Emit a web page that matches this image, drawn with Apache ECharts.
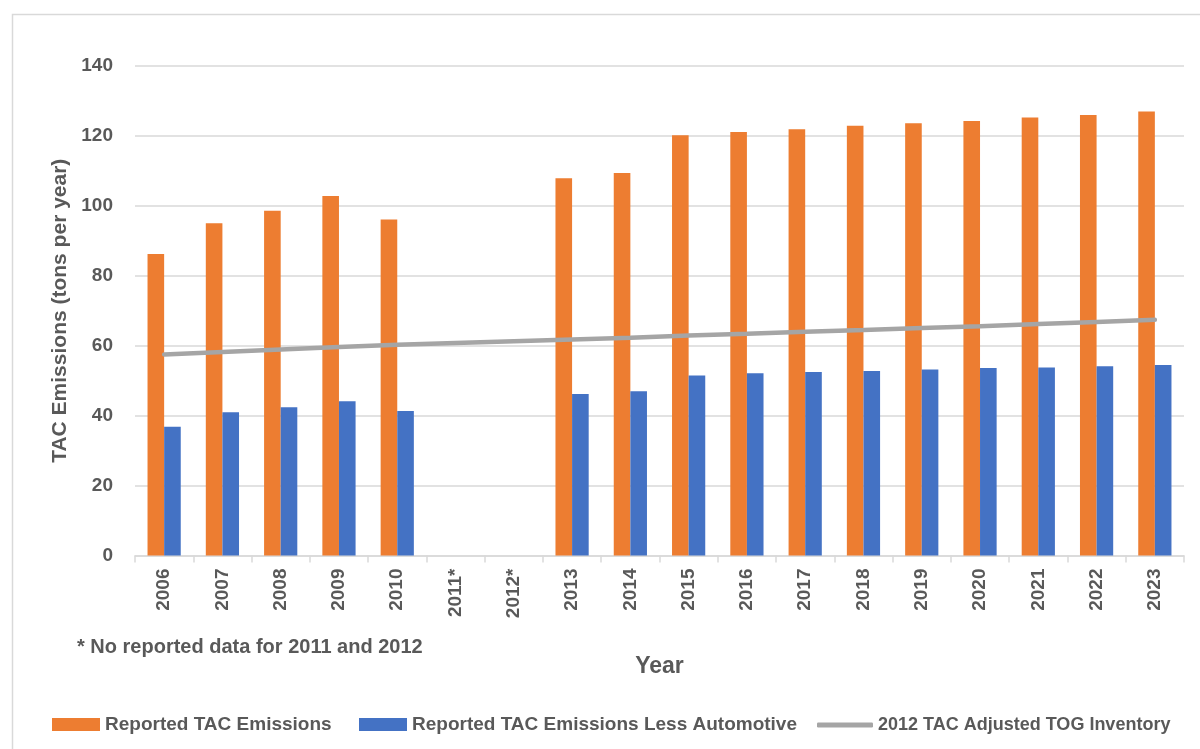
<!DOCTYPE html>
<html>
<head>
<meta charset="utf-8">
<script src="https://cdn.jsdelivr.net/npm/echarts@6/dist/echarts.min.js"></script>
<style>
html,body{margin:0;padding:0;background:#fff;}
#chart{width:1200px;height:749px;}
</style>
</head>
<body>
<div id="chart"></div>
<script>
const categories = ['2006','2007','2008','2009','2010','2011*','2012*','2013','2014','2015','2016','2017','2018','2019','2020','2021','2022','2023'];
const reportedTAC = [86.2, 95.0, 98.6, 102.8, 96.1, null, null, 107.9, 109.4, 120.2, 121.1, 121.9, 122.9, 123.6, 124.3, 125.3, 126.0, 127.0];
const reportedLessAuto = [36.8, 41.0, 42.4, 44.1, 41.3, null, null, 46.2, 47.0, 51.5, 52.1, 52.5, 52.8, 53.2, 53.6, 53.8, 54.1, 54.5];
const togInventory = [57.5, 58.2, 58.9, 59.6, 60.3, 60.8, 61.3, 61.8, 62.3, 62.9, 63.4, 64.0, 64.5, 65.1, 65.6, 66.2, 66.8, 67.4];
const yTicks = [0, 20, 40, 60, 80, 100, 120, 140];

const FONT = 'Liberation Sans';
const TXT = '#595959';
const chart = echarts.init(document.getElementById('chart'), null, {renderer:'canvas'});
chart.setOption({
  animation: false,
  backgroundColor: '#fff',
  textStyle: {fontFamily: FONT},
  grid: {left: 135, right: 16, top: 66, bottom: 193.5, containLabel: false},
  graphic: [
    {type:'rect', left:10, top:12, shape:{x:0,y:0,width:1250,height:800}, style:{fill:'none', stroke:'#d9d9d9', lineWidth:1.5}, silent:true, z:-10},
    {type:'text', left:77, top:637, style:{text:'* No reported data for 2011 and 2012', fill:TXT, font:'bold 20px "Liberation Sans"'}}
  ],
  legend: [
    {data:['Reported TAC Emissions'], left:47, top:710, itemWidth:48, itemHeight:13, icon:'rect', itemGap:0,
     textStyle:{color:TXT, fontSize:19, fontWeight:'bold', fontFamily:FONT}},
    {data:['Reported TAC Emissions Less Automotive'], left:354, top:710, itemWidth:48, itemHeight:13, icon:'rect',
     textStyle:{color:TXT, fontSize:19, fontWeight:'bold', fontFamily:FONT}},
    {data:[{name:'2012 TAC Adjusted TOG Inventory', icon:'roundRect'}], left:812, top:711, itemWidth:56, itemHeight:5,
     textStyle:{color:TXT, fontSize:18, fontWeight:'bold', fontFamily:FONT}}
  ],
  xAxis: {
    type: 'category',
    data: categories,
    name: 'Year',
    nameLocation: 'middle',
    nameGap: 100,
    nameTextStyle: {color:TXT, fontSize:23, fontWeight:'bold', fontFamily:FONT},
    axisLine: {lineStyle:{color:'#d9d9d9', width:1.5}},
    axisTick: {show:true, length:7, lineStyle:{color:'#d9d9d9', width:1.5}},
    axisLabel: {rotate:90, color:TXT, fontSize:19, fontWeight:'bold', fontFamily:FONT, margin:13}
  },
  yAxis: {
    type: 'value',
    min: 0, max: 140, interval: 20,
    name: 'TAC Emissions (tons per year)',
    nameLocation: 'middle',
    nameGap: 62,
    nameRotate: 90,
    nameTextStyle: {color:TXT, fontSize:21, fontWeight:'bold', fontFamily:FONT},
    axisLine: {show:false},
    axisTick: {show:false},
    axisLabel: {color:TXT, fontSize:19, fontWeight:'bold', fontFamily:FONT, margin:22,
      formatter: v => yTicks.includes(v) ? String(v) : ''},
    splitLine: {lineStyle:{color:'#d9d9d9', width:1.5}}
  },
  series: [
    {name:'Reported TAC Emissions', type:'bar', data:reportedTAC, barGap:'0%', barCategoryGap:'43%',
     itemStyle:{color:'#ED7D31'}},
    {name:'Reported TAC Emissions Less Automotive', type:'bar', data:reportedLessAuto, barGap:'0%', barCategoryGap:'43%',
     itemStyle:{color:'#4472C4'}},
    {name:'2012 TAC Adjusted TOG Inventory', type:'line', data:togInventory, symbol:'none', showSymbol:false,
     lineStyle:{color:'#A5A5A5', width:4.5, cap:'round'}, itemStyle:{color:'#A5A5A5'}, z:5}
  ]
});
</script>
</body>
</html>
